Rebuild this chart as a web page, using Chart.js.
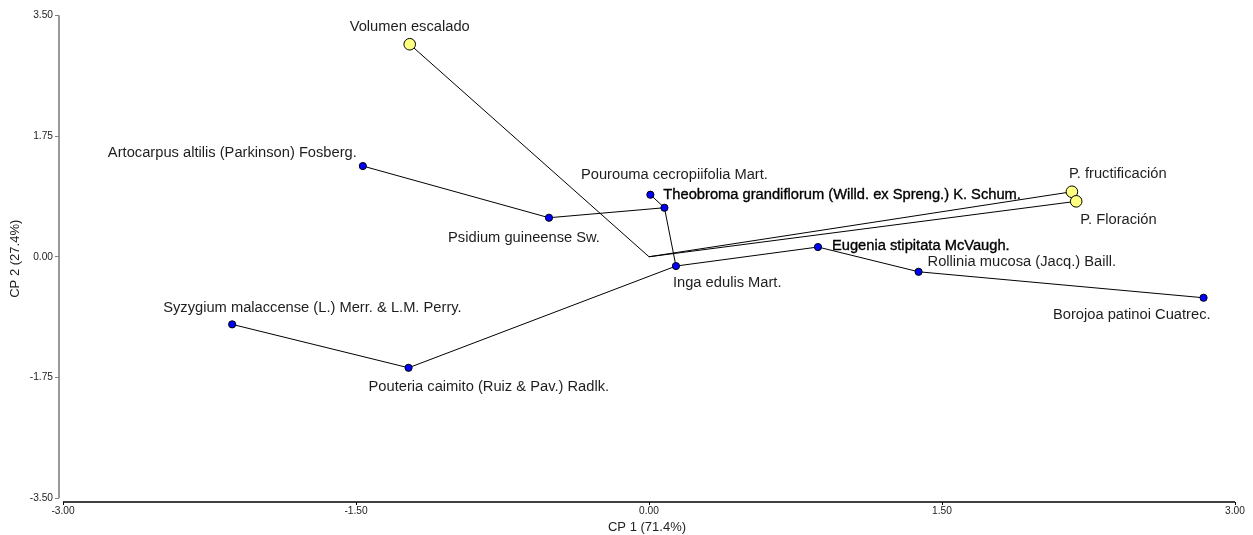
<!DOCTYPE html>
<html>
<head>
<meta charset="utf-8">
<script src="https://cdn.jsdelivr.net/npm/chart.js@4"></script>
<style>
html,body{margin:0;padding:0;background:#fff;}
#wrap{width:1253px;height:535px;position:relative;}
</style>
</head>
<body>
<div id="wrap"><canvas id="c" width="1253" height="535"></canvas></div>
<script>
// ---- data ----
const speciesNames = [
  "Artocarpus altilis (Parkinson) Fosberg.",
  "Psidium guineense Sw.",
  "Theobroma grandiflorum (Willd. ex Spreng.) K. Schum.",
  "Pourouma cecropiifolia Mart.",
  "Inga edulis Mart.",
  "Eugenia stipitata McVaugh.",
  "Rollinia mucosa (Jacq.) Baill.",
  "Borojoa patinoi Cuatrec.",
  "Syzygium malaccense (L.) Merr. & L.M. Perry.",
  "Pouteria caimito (Ruiz & Pav.) Radlk."
];
const speciesX = [-1.465, -0.512, 0.007, 0.079, 0.138, 0.865, 1.380, 2.839, -2.134, -1.231];
const speciesY = [1.316, 0.566, 0.900, 0.711, -0.135, 0.141, -0.218, -0.595, -0.981, -1.611];

const variableNames = ["Volumen escalado", "P. fructificación", "P. Floración"];
const variableX = [-1.225, 2.165, 2.187];
const variableY = [3.083, 0.943, 0.804];

// minimum spanning tree links between species (index pairs)
const treeLinks = [[0,1],[1,3],[3,2],[3,4],[4,9],[9,8],[4,5],[5,6],[6,7]];

const xTicks = [-3, -1.5, 0, 1.5, 3];
const yTicks = [-3.5, -1.75, 0, 1.75, 3.5];
const xTitle = "CP 1 (71.4%)";
const yTitle = "CP 2 (27.4%)";

// ---- label layout (pixel offsets from the mark) ----
const speciesLabelLayout = [
  {dx:-6, dy:-13, align:'right'},
  {dx:-25, dy:20, align:'center'},
  {dx:13, dy:0, align:'left', strong:true},
  {dx:10, dy:-33, align:'center'},
  {dx:-3, dy:17, align:'left'},
  {dx:14, dy:-1, align:'left', strong:true},
  {dx:9, dy:-10, align:'left'},
  {dx:7, dy:17, align:'right'},
  {dx:-69, dy:-16, align:'left'},
  {dx:-40, dy:19, align:'left'}
];
const variableLabelLayout = [
  {dx:0, dy:-17, align:'center'},
  {dx:-3, dy:-18, align:'left'},
  {dx:4, dy:19, align:'left'}
];

// ---- build datasets ----
const datasets = [];
treeLinks.forEach(([a,b]) => {
  datasets.push({
    type:'scatter', showLine:true, order:2,
    data:[{x:speciesX[a], y:speciesY[a]},{x:speciesX[b], y:speciesY[b]}],
    borderColor:'#000', borderWidth:1, pointRadius:0, pointHoverRadius:0, fill:false
  });
});
variableX.forEach((vx,i) => {
  datasets.push({
    type:'scatter', showLine:true, order:2,
    data:[{x:0, y:0},{x:vx, y:variableY[i]}],
    borderColor:'#000', borderWidth:1, pointRadius:0, pointHoverRadius:0, fill:false
  });
});
datasets.push({
  type:'scatter', order:1, label:'variables',
  data: variableX.map((x,i)=>({x, y:variableY[i]})),
  backgroundColor:'#ffff80', borderColor:'#000', borderWidth:1, pointRadius:5.8
});
datasets.push({
  type:'scatter', order:0, label:'species',
  data: speciesX.map((x,i)=>({x, y:speciesY[i]})),
  backgroundColor:'#0000ff', borderColor:'#000', borderWidth:1, pointRadius:3.6
});

const FONT = 'Arial, "Liberation Sans", sans-serif';

const labelPlugin = {
  id:'pointLabels',
  afterDatasetsDraw(chart){
    const ctx = chart.ctx;
    const xs = chart.scales.x, ys = chart.scales.y;
    ctx.save();
    ctx.font = '14.7px ' + FONT;
    ctx.textBaseline = 'middle';
    const draw = (name, vx, vy, lay) => {
      const px = xs.getPixelForValue(vx) + lay.dx;
      const py = ys.getPixelForValue(vy) + lay.dy;
      ctx.textAlign = lay.align;
      ctx.fillStyle = lay.strong ? '#000' : '#1e1e1e';
      ctx.fillText(name, px, py);
      if (lay.strong) {
        ctx.strokeStyle = '#000';
        ctx.lineWidth = 0.35;
        ctx.strokeText(name, px, py);
      }
    };
    speciesNames.forEach((n,i)=>draw(n, speciesX[i], speciesY[i], speciesLabelLayout[i]));
    variableNames.forEach((n,i)=>draw(n, variableX[i], variableY[i], variableLabelLayout[i]));
    ctx.restore();
  },
  beforeDatasetsDraw(chart){
    // detached axis lines spanning the tick range
    const ctx = chart.ctx;
    const xs = chart.scales.x, ys = chart.scales.y;
    const ca = chart.chartArea;
    ctx.save();
    ctx.lineWidth = 1.6;
    ctx.strokeStyle = '#808080';
    ctx.beginPath();
    ctx.moveTo(ca.left, ys.getPixelForValue(yTicks[yTicks.length-1]));
    ctx.lineTo(ca.left, ys.getPixelForValue(yTicks[0]));
    ctx.stroke();
    ctx.lineWidth = 1.5;
    ctx.strokeStyle = '#000';
    ctx.beginPath();
    ctx.moveTo(xs.getPixelForValue(xTicks[0]), ca.bottom);
    ctx.lineTo(xs.getPixelForValue(xTicks[xTicks.length-1]), ca.bottom);
    ctx.stroke();
    ctx.restore();
  }
};

new Chart(document.getElementById('c'), {
  type:'scatter',
  data:{datasets},
  options:{
    responsive:false,
    animation:false,
    events:[],
    layout:{padding:{top:15.5, right:18, left:0, bottom:0}},
    plugins:{legend:{display:false}, tooltip:{enabled:false}},
    scales:{
      x:{
        type:'linear',
        min: xTicks[0] - 4/195.33,
        max: xTicks[xTicks.length-1],
        afterFit(s){ s.height = 33; },
        afterBuildTicks(s){ s.ticks = xTicks.map(v=>({value:v})); },
        ticks:{font:{size:10.2, family:FONT}, color:'#222', padding:0, maxRotation:0,
               callback:(v)=>Number(v).toFixed(2)},
        grid:{display:true, drawOnChartArea:false, tickLength:3, color:'#000', tickWidth:1},
        border:{display:false},
        title:{display:true, text:xTitle, font:{size:13, family:FONT}, color:'#222', padding:{top:0,bottom:0}}
      },
      y:{
        type:'linear',
        min: yTicks[0] - 4/68.93,
        max: yTicks[yTicks.length-1],
        afterFit(s){ s.width = 59; },
        afterBuildTicks(s){ s.ticks = yTicks.map(v=>({value:v})); },
        ticks:{font:{size:10.2, family:FONT}, color:'#222', padding:2,
               callback:(v)=>Number(v).toFixed(2)},
        grid:{display:true, drawOnChartArea:false, tickLength:4, color:'#808080', tickWidth:1},
        border:{display:false},
        title:{display:true, text:yTitle, font:{size:13, family:FONT}, color:'#222', padding:{top:8,bottom:0}}
      }
    }
  },
  plugins:[labelPlugin]
});
</script>
</body>
</html>
